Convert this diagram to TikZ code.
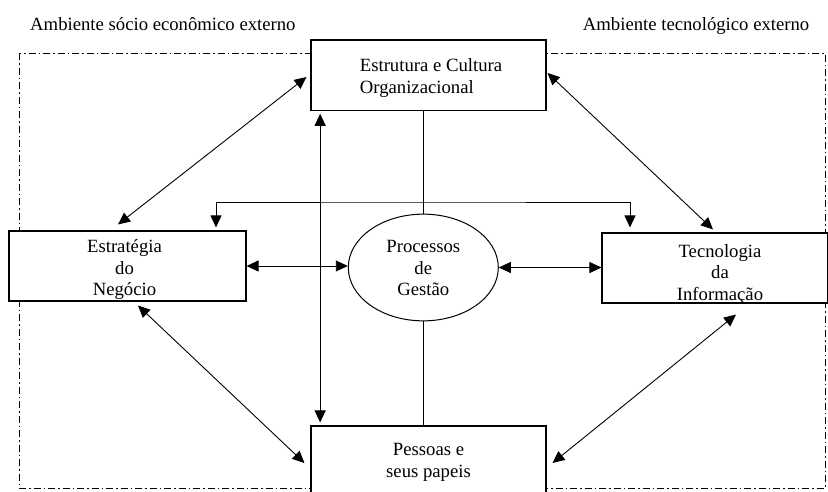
\documentclass[tikz,border=0pt]{standalone}
\usepackage{fontspec}
\setmainfont{Liberation Serif}
\usetikzlibrary{arrows.meta,calc,shapes.geometric}
\begin{document}
\begin{tikzpicture}[x=1pt,y=-1pt,
  txt/.style={font=\fontsize{18.7pt}{21.5pt}\selectfont, inner sep=0pt},
  box/.style={draw, line width=1.1pt, fill=white, rectangle, inner sep=0pt},
  inlabel/.style={txt, align=center},
  link/.style={line width=0.9pt},
  tip/.style={Triangle[length=12pt,width=11pt]},
  dlink/.style={link, {Triangle[length=12pt,width=11pt]}-{Triangle[length=12pt,width=11pt]}},
  envline/.style={line width=0.9pt, dash pattern=on 7pt off 3pt on 1.5pt off 3pt}
]
\useasboundingbox (0,0) rectangle (828,491);
\clip (0,0) rectangle (828,491);
\fill[white] (0,0) rectangle (828,491);

% external environment frame
\draw[envline] (19,53) rectangle (825,488);

\node[txt, anchor=base west] (socio) at (30,30) {Ambiente sócio econômico externo};
\node[txt, anchor=base west] (tecext) at (582.7,30) {Ambiente tecnológico externo};

% the four blocks and the central process
\node[box, minimum width=235pt, minimum height=70.7pt,
  label={[inlabel, align=left, xshift=2.5pt, yshift=-2.5pt]center:Estrutura e Cultura\\Organizacional}]
  (org) at (428.5,75.35) {};
\node[box, minimum width=237pt, minimum height=70pt,
  label={[inlabel, xshift=-3pt, yshift=-3.6pt]center:Estratégia\\do\\Negócio}]
  (strat) at (127.5,266) {};
\node[box, minimum width=225.5pt, minimum height=70pt,
  label={[inlabel, xshift=5.25pt, yshift=-6.3pt]center:Tecnologia\\da\\Informação}]
  (tec) at (714.75,268) {};
\node[box, minimum width=235pt, minimum height=70pt,
  label={[inlabel, yshift=-1.5pt]center:Pessoas e\\seus papeis}]
  (pes) at (428.5,461) {};
\node[ellipse, draw, line width=1pt, fill=white, inner sep=0pt,
  minimum width=150pt, minimum height=106.7pt,
  label={[inlabel, yshift=-0.8pt]center:Processos\\de\\Gestão}]
  (proc) at (423.3,267.5) {};

% diagonal links between the outer blocks
\draw[dlink] ($(strat.north)+(-9.5,-6)$) -- ($(org.west)+(-4,1.65)$);
\draw[dlink] ($(tec.north)+(-1.75,-3)$) -- ($(org.east)+(1,-2.35)$);
\draw[dlink] ($(strat.south)+(10.5,4)$) -- ($(pes.west)+(-6,2)$);
\draw[dlink] ($(tec.south)+(21.25,11)$) -- ($(pes.east)+(6,2)$);

% fork over the process
\coordinate (fork) at (423.3,202);
\draw[dlink, shorten <=3pt, shorten >=5pt]
  ([xshift=88.5pt]strat.north) |- (fork) -| ([xshift=-84.75pt]tec.north);

% vertical axis through the process
\draw[link] (org.south -| proc.north) -- (proc.north);
\draw[link] (proc.south) -- (proc.south |- pes.north);

% horizontal links to the process
\draw[dlink] (strat.east) -- (strat.east -| proc.west);
\draw[dlink] (proc.east) -- (proc.east -| tec.west);

% structure <-> people
\draw[dlink] ($(org.south west)+(9.7,2.5)$) -- ($(pes.north west)+(9.7,-3)$);
\end{tikzpicture}
\end{document}
